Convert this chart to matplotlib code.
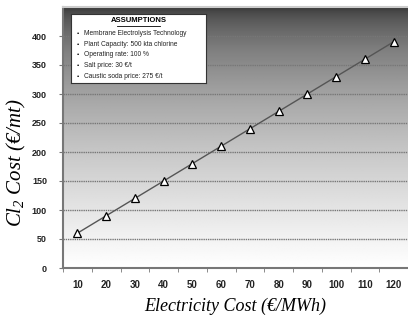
import numpy as np
import matplotlib
matplotlib.use("Agg")
import matplotlib.pyplot as plt

# data
elec_cost = [10, 20, 30, 40, 50, 60, 70, 80, 90, 100, 110, 120]
cl2_cost = [60, 90, 120, 150, 180, 210, 240, 270, 300, 330, 360, 390]
assumptions = ["Membrane Electrolysis Technology",
               "Plant Capacity: 500 kta chlorine",
               "Operating rate: 100 %",
               "Salt price: 30 €/t",
               "Caustic soda price: 275 €/t"]

plt.rcParams["mathtext.fontset"] = "custom"
plt.rcParams["mathtext.rm"] = "Liberation Serif:italic"
plt.rcParams["mathtext.it"] = "Liberation Serif:italic"

fig = plt.figure(figsize=(4.08, 3.26), dpi=100)
ax = fig.add_axes([63/408, 58/326, 345/408, 261/326])

x = np.arange(len(elec_cost))
ax.set_xlim(-0.5, len(elec_cost) - 0.5)

# gradient background, dark at top
grad = np.linspace(0, 1, 256) ** 0.55
grad = 0.2 + 0.8 * grad
img = np.repeat(grad[:, None], 2, axis=1)
ax.imshow(img, extent=[-0.5, len(elec_cost) - 0.5, 0, 450], cmap="gray",
          vmin=0, vmax=1, aspect="auto", zorder=0, origin="upper")
ax.set_ylim(0, 450)

for yv in range(50, 450, 50):
    ax.axhline(yv, color="#777777", lw=1.0, ls=(0, (1, 0.6)), zorder=1)

ax.plot(x, cl2_cost, color="#555555", lw=1, marker="^", markersize=6,
        markerfacecolor="white", markeredgecolor="black", markeredgewidth=0.9, zorder=3)

ax.set_xticks(x)
ax.set_xticklabels([str(v) for v in elec_cost], fontweight="bold", fontsize=7,
                   family="Liberation Sans", color="#222222")
ax.set_xticks(np.arange(-0.5, len(elec_cost)), minor=True)
ax.tick_params(axis="x", which="major", length=0, pad=9)
ax.tick_params(axis="x", which="minor", length=3, direction="out", color="#777777")
ax.set_yticks(range(0, 401, 50))
ax.set_yticklabels([str(v) for v in range(0, 401, 50)], fontweight="bold", fontsize=6.5,
                   family="Liberation Sans", color="#222222")
ax.tick_params(axis="y", length=3, direction="out", color="#777777", pad=8.5)

for s in ["left", "bottom"]:
    ax.spines[s].set_color("#777777")
    ax.spines[s].set_linewidth(1.5)
ax.spines["right"].set_visible(False)
ax.spines["top"].set_color("#cccccc")
ax.spines["top"].set_linewidth(1.5)

ax.set_xlabel("Electricity Cost (€/MWh)", family="Liberation Serif", style="italic",
              fontsize=13, labelpad=5)
ax.set_ylabel("Cl$_2$ Cost (€/mt)", family="Liberation Serif", style="italic",
              fontsize=15)
ax.yaxis.set_label_coords(-0.1, 0.405)

# assumptions box
box = fig.add_axes([71/408, 243/326, 135/408, 69/326])
box.set_facecolor("white")
box.set_xticks([])
box.set_yticks([])
for s in box.spines.values():
    s.set_color("#333333")
    s.set_linewidth(0.8)
box.set_xlim(0, 1)
box.set_ylim(0, 1)
box.text(0.5, 0.9, "ASSUMPTIONS", ha="center", va="center", fontsize=5.5,
         fontweight="bold", family="Liberation Sans")
box.plot([0.34, 0.66], [0.83, 0.83], color="black", lw=0.6)
for i, t in enumerate(assumptions):
    yy = 0.72 - i * 0.155
    box.text(0.04, yy, "•", ha="left", va="center", fontsize=4.5, family="Liberation Sans")
    box.text(0.1, yy, t, ha="left", va="center", fontsize=4.8, family="Liberation Sans",
             color="#222222")

fig.savefig("out.png", dpi=100)
